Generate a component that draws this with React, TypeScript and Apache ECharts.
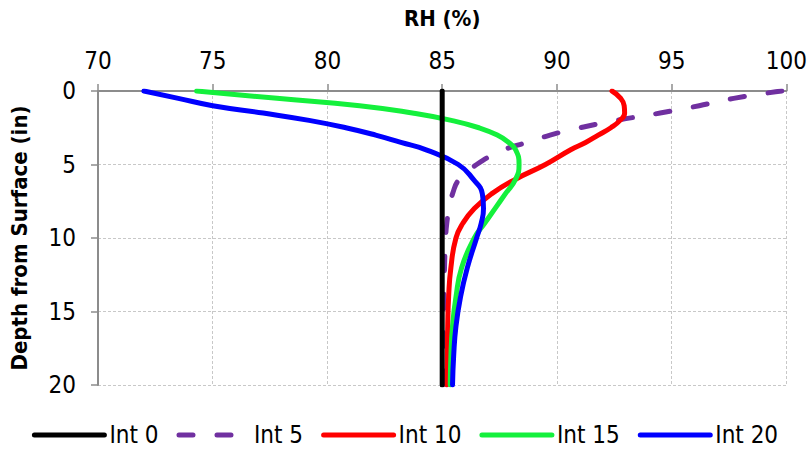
import React, { useEffect, useRef } from "react";
import * as echarts from "echarts";

// Depth below the surface (in) at which each RH profile is sampled
const depths = [0, 0.5, 1, 1.5, 2, 2.5, 3, 3.5, 4, 5, 6, 7, 8, 9, 10, 12, 14, 16, 18, 20];

// Relative humidity (%) profiles for each interval
const int0 = [85, 85, 85, 85, 85, 85, 85, 85, 85, 85, 85, 85, 85, 85, 85, 85, 85, 85, 85, 85];
const int5 = [99.8, 97.7, 96.2, 94.5, 92.6, 91.0, 89.7, 88.7, 87.7, 86.5, 85.75, 85.45, 85.3, 85.2, 85.15, 85.1, 85.08, 85.06, 85.05, 85.05];
const int10 = [92.4, 92.78, 92.93, 92.95, 92.75, 92.35, 91.8, 91.25, 90.6, 89.5, 88.2, 87.15, 86.4, 85.9, 85.6, 85.38, 85.28, 85.24, 85.22, 85.2];
const int15 = [74.3, 77.8, 81.4, 83.7, 85.4, 86.6, 87.4, 87.9, 88.2, 88.35, 88.2, 87.75, 87.3, 86.85, 86.4, 85.85, 85.6, 85.45, 85.38, 85.35];
const int20 = [72.0, 73.5, 75.0, 77.2, 79.2, 80.8, 82.1, 83.2, 84.3, 85.7, 86.35, 86.75, 86.8, 86.7, 86.5, 86.1, 85.8, 85.6, 85.5, 85.45];

const seriesNames = ["Int 0", "Int 5", "Int 10", "Int 15", "Int 20"];
const seriesColors = ["#000000", "#7030a0", "#ff0000", "#14f03c", "#0000ff"];
const rhTicks = { min: 70, max: 100, step: 5 };
const depthTicks = { min: 0, max: 20, step: 5 };

const FONT = "'Liberation Sans Narrow', 'Arial Narrow', 'DejaVu Sans Condensed', 'Liberation Sans', sans-serif";

export default function App() {
  const ref = useRef<HTMLDivElement>(null);

  useEffect(() => {
    if (!ref.current) return;
    const chart = echarts.init(ref.current, undefined, { renderer: "svg" });

    const profiles = [int0, int5, int10, int15, int20];
    const series = profiles.map((rh, i) => ({
      name: seriesNames[i],
      type: "line",
      data: rh.map((v, k) => [v, depths[k]]),
      symbol: "none",
      smooth: 0.5,
      z: i === 0 ? 4 : 2 + i * 0.01,
      lineStyle: {
        color: seriesColors[i],
        width: 5,
        type: i === 1 ? [14, 24] : "solid",
        cap: "round",
        join: "round",
      },
      itemStyle: { color: seriesColors[i] },
    }));

    chart.setOption({
      animation: false,
      backgroundColor: "#ffffff",
      textStyle: { fontFamily: FONT },
      grid: { left: 97, right: 23, top: 91, bottom: 67, containLabel: false },
      legend: {
        data: seriesNames,
        bottom: 0,
        left: "center",
        itemWidth: 70,
        itemHeight: 12,
        itemGap: 18,
        itemStyle: { opacity: 0 },
        lineStyle: { width: 5, cap: "round" },
        textStyle: { fontFamily: FONT, fontSize: 24, color: "#000" },
      },
      xAxis: {
        type: "value",
        position: "top",
        min: rhTicks.min,
        max: rhTicks.max,
        interval: rhTicks.step,
        name: "RH (%)",
        nameLocation: "middle",
        nameGap: 62,
        nameTextStyle: { fontFamily: FONT, fontSize: 22, fontWeight: "bold", color: "#000" },
        axisLine: { onZero: false, lineStyle: { color: "#8c8c8c", width: 2 } },
        axisTick: { show: true, length: 7, lineStyle: { color: "#8c8c8c", width: 1.5 } },
        axisLabel: { fontFamily: FONT, fontSize: 24, color: "#000", margin: 18 },
        splitLine: { show: true, lineStyle: { color: "#c8c8c8", type: [3, 2], width: 1 } },
      },
      yAxis: {
        type: "value",
        inverse: true,
        min: depthTicks.min,
        max: depthTicks.max,
        interval: depthTicks.step,
        name: "Depth from Surface (in)",
        nameLocation: "middle",
        nameGap: 68,
        nameRotate: 90,
        nameTextStyle: { fontFamily: FONT, fontSize: 22, fontWeight: "bold", color: "#000" },
        axisLine: { show: true, onZero: false, lineStyle: { color: "#8c8c8c", width: 2 } },
        axisTick: { show: true, length: 7, lineStyle: { color: "#8c8c8c", width: 1.5 } },
        axisLabel: { fontFamily: FONT, fontSize: 24, color: "#000", margin: 22 },
        splitLine: { show: true, lineStyle: { color: "#c8c8c8", type: [3, 2], width: 1 } },
      },
      series,
    });

    return () => chart.dispose();
  }, []);

  return (
    <div
      ref={ref}
      style={{ position: "absolute", left: 0, top: 0, width: 810, height: 452 }}
    />
  );
}
